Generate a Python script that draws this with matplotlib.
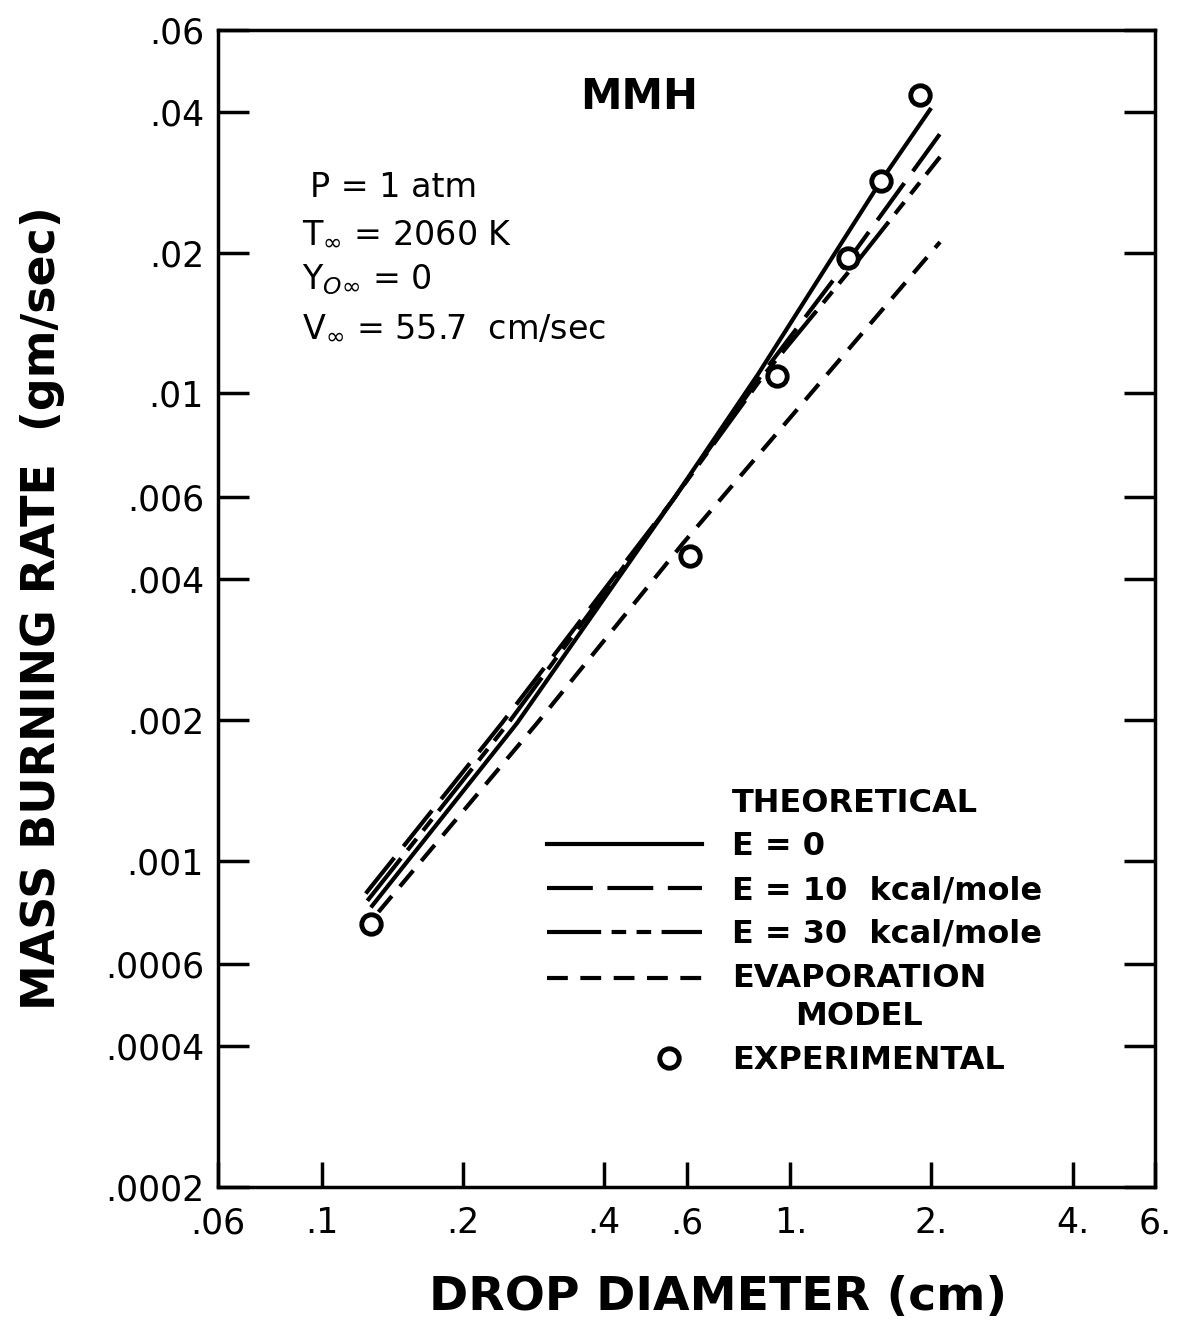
import matplotlib.pyplot as plt
from matplotlib.lines import Line2D
from matplotlib.legend_handler import HandlerLine2D, HandlerLine2DCompound

# experimental points (drop diameter cm, mass burning rate gm/sec)
exp_d = [0.127, 0.61, 0.936, 1.327, 1.561, 1.89]
exp_m = [0.000732, 0.00449, 0.0109, 0.0195, 0.0285, 0.0436]

# theoretical, E = 0
e0_d = [0.128, 0.261, 0.5615, 0.853, 1.226, 1.56, 1.985]
e0_m = [0.0008, 0.00197, 0.00592, 0.011, 0.0195, 0.0285, 0.0405]

# theoretical, E = 10 kcal/mole
e10_d = [0.124, 0.2423, 0.5615, 0.87, 1.34, 2.17]
e10_m = [0.00085, 0.00197, 0.00592, 0.011, 0.0195, 0.038]

# theoretical, E = 30 kcal/mole
e30_d = [0.125, 0.25, 0.5615, 0.88, 1.408, 2.086]
e30_m = [0.00082, 0.00197, 0.00592, 0.011, 0.0195, 0.0321]

# evaporation model
ev_d = [0.132, 0.288, 0.59, 2.086]
ev_m = [0.000776, 0.00197, 0.00478, 0.0211]

xticks = [0.06, 0.1, 0.2, 0.4, 0.6, 1, 2, 4, 6]
xlabels = ['.06', '.1', '.2', '.4', '.6', '1.', '2.', '4.', '6.']
yticks = [0.0002, 0.0004, 0.0006, 0.001, 0.002, 0.004, 0.006, 0.01, 0.02, 0.04, 0.06]
ylabels = ['.0002', '.0004', '.0006', '.001', '.002', '.004', '.006', '.01', '.02', '.04', '.06']


class MarkerRight(HandlerLine2DCompound):
    # put the legend marker near the right end of the handle, like the original
    def get_xdata(self, legend, xdescent, ydescent, width, height, fontsize):
        xdata, _ = super().get_xdata(legend, xdescent, ydescent, width, height, fontsize)
        return xdata, [-xdescent + 0.79 * width]


class LineUp(HandlerLine2D):
    # two-line label: keep the sample line level with the first line of text
    def create_artists(self, legend, orig_handle, xdescent, ydescent, width, height, fontsize, trans):
        arts = super().create_artists(legend, orig_handle, xdescent, ydescent, width, height,
                                      fontsize, trans)
        for a in arts:
            a.set_ydata([y + 0.62 * fontsize for y in a.get_ydata()])
        return arts


plt.rcParams['font.family'] = ['DejaVu Sans']

fig = plt.figure(figsize=(11.81, 13.22), dpi=100)
ax = fig.add_axes([0.1846, 0.1021, 0.7934, 0.8752])

lw = 3
ax.plot(e0_d, e0_m, color='black', lw=lw, label='E = 0')
ax.plot(e10_d, e10_m, color='black', lw=lw, dashes=(11, 3.5), label='E = 10  kcal/mole')
ax.plot(e30_d, e30_m, color='black', lw=lw, dashes=(13, 2.5, 3.5, 2.5, 3.5, 2.5), label='E = 30  kcal/mole')
evap, = ax.plot(ev_d, ev_m, color='black', lw=lw, dashes=(5, 3), label='EVAPORATION\nMODEL')
pts, = ax.plot(exp_d, exp_m, 'o', ms=14, mfc='white', mec='black', mew=3.5, ls='none',
               label='EXPERIMENTAL')

ax.set_xscale('log')
ax.set_yscale('log')
ax.set_xlim(0.06, 6)
ax.set_ylim(0.0002, 0.06)

ax.minorticks_off()
ax.set_xticks(xticks, labels=xlabels)
ax.set_yticks(yticks, labels=ylabels)
ax.tick_params(axis='x', which='major', direction='in', length=18, width=2.5,
               labelsize=25, pad=14, top=False)
ax.tick_params(axis='y', which='major', direction='in', length=22, width=2.5,
               labelsize=25, pad=10, right=True)
for s in ax.spines.values():
    s.set_linewidth(2.5)

ax.set_xlabel('DROP DIAMETER (cm)', fontsize=34, fontweight='bold')
ax.xaxis.set_label_coords(0.534, -0.076)
ax.set_ylabel('MASS BURNING RATE  (gm/sec)', fontsize=33, fontweight='bold')
ax.yaxis.set_label_coords(-0.163, 0.5)

ax.text(0.449, 0.942, 'MMH', transform=ax.transAxes, fontsize=30, fontweight='bold',
        ha='center', va='center')

info = ['P = 1 atm', r'T$_{\infty}$ = 2060 K', r'Y$_{O\infty}$ = 0', r'V$_{\infty}$ = 55.7  cm/sec']
info_x = [0.0982, 0.0897, 0.0897, 0.0897]
info_y = [0.864, 0.8245, 0.784, 0.743]
for t, x, y in zip(info, info_x, info_y):
    ax.text(x, y, t, transform=ax.transAxes, fontsize=24, ha='left', va='center')

handles, labels = ax.get_legend_handles_labels()
handles = [Line2D([], [], color='none')] + handles
labels = ['THEORETICAL'] + labels
leg = ax.legend(handles, labels, loc='upper left', bbox_to_anchor=(0.334, 0.359),
                frameon=False, handlelength=4.85, handletextpad=0.95, borderpad=0,
                labelspacing=0.4, numpoints=1, prop={'size': 23, 'weight': 'bold'},
                handler_map={pts: MarkerRight(), evap: LineUp()})
for t in leg.get_texts():
    t.set_multialignment('center')
    t.set_linespacing(1.3)

fig.savefig('out.png', dpi=100)
